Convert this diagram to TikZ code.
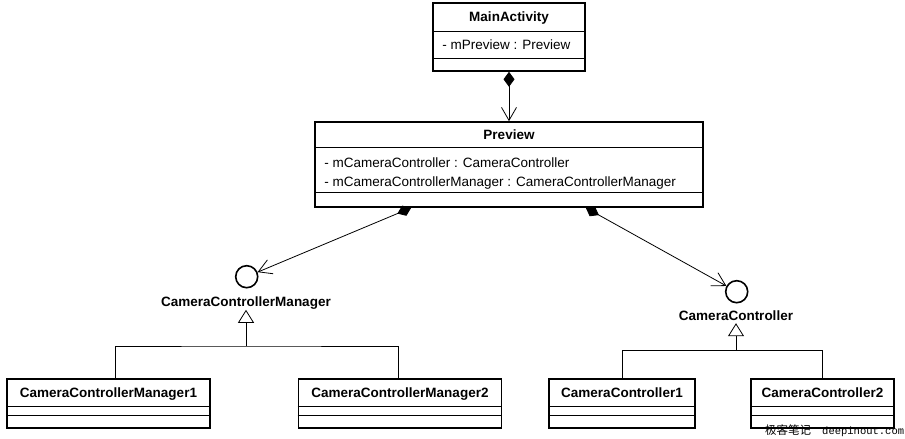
\documentclass[tikz,border=0pt]{standalone}
\usepackage{fontspec}
\setmainfont{Liberation Sans}
\newfontfamily\cjkfont{Noto Sans CJK SC}
\newfontfamily\wmfont{Liberation Mono}
\usetikzlibrary{arrows.meta}

\begin{document}
\begin{tikzpicture}[x=1pt,y=-1pt,
    classbox/.style={draw,line width=1.6pt,rectangle,inner sep=0pt},
    divider/.style={line width=0.8pt},
    classname/.style={font=\fontsize{13.5}{15}\selectfont\bfseries,inner sep=0pt,anchor=base},
    attr/.style={font=\fontsize{13.5}{15}\selectfont,inner sep=0pt,anchor=base west},
    iface/.style={draw,circle,line width=1.6pt,minimum size=22pt,inner sep=0pt},
    ifacename/.style={font=\fontsize{13.5}{15}\selectfont\bfseries,inner sep=0pt,anchor=base,text depth=3pt},
    link/.style={line width=0.8pt},
    compose/.style={link,{Diamond[length=15pt,width=11pt]}-{Straight Barb[length=13pt,width=15pt]}},
    realize/.style={link,-{Triangle[open,length=13pt,width=16pt]}}]
            \useasboundingbox (0,0) rectangle (905,439);
            % classes
            \node[classbox,minimum width=152pt,minimum height=68pt] (main) at (509,37) {};
            \draw[divider] ([yshift=-29pt]main.north west) -- ([yshift=-29pt]main.north east);
            \draw[divider] ([yshift=-56pt]main.north west) -- ([yshift=-56pt]main.north east);
            \node[classname] (maintitle) at ([yshift=-19.5pt]main.north) {MainActivity};
            \node[attr] (mainattr) at ([xshift=10pt,yshift=-47.5pt]main.north west) {- mPreview : Preview};

            \node[classbox,minimum width=388pt,minimum height=85pt] (preview) at (509,164.5) {};
            \draw[divider] ([yshift=-26pt]preview.north west) -- ([yshift=-26pt]preview.north east);
            \draw[divider] ([yshift=-71pt]preview.north west) -- ([yshift=-71pt]preview.north east);
            \node[classname] (previewtitle) at ([yshift=-18pt]preview.north) {Preview};
            \node[attr] (previewattra) at ([xshift=10pt,yshift=-46pt]preview.north west) {- mCameraController : CameraController};
            \node[attr] (previewattrb) at ([xshift=10pt,yshift=-65.4pt]preview.north west) {- mCameraControllerManager : CameraControllerManager};

            \node[classbox,minimum width=203pt,minimum height=49pt] (ccm1) at (108.5,403.5) {};
            \node[classbox,minimum width=203pt,minimum height=49pt] (ccm2) at (400,403.5) {};
            \node[classbox,minimum width=146pt,minimum height=49pt] (cc1) at (622,403.5) {};
            \node[classbox,minimum width=143pt,minimum height=49pt] (cc2) at (822.5,403.5) {};
            \foreach \c in {ccm1,ccm2,cc1,cc2} {
                \draw[divider] ([yshift=-28.5pt]\c.north west) -- ([yshift=-28.5pt]\c.north east);
                \draw[divider] ([yshift=-37.5pt]\c.north west) -- ([yshift=-37.5pt]\c.north east);
            }
            \node[classname] (ccm1title) at ([yshift=-19.5pt]ccm1.north) {CameraControllerManager1};
            \node[classname] (ccm2title) at ([yshift=-19.5pt]ccm2.north) {CameraControllerManager2};
            \node[classname] (cc1title) at ([yshift=-19.5pt]cc1.north) {CameraController1};
            \node[classname] (cc2title) at ([yshift=-19.5pt]cc2.north) {CameraController2};

            % interfaces
            \node[iface] (ccmif) at (246.7,276.7) {};
            \node[ifacename] (ccmlabel) at (246,306.6) {CameraControllerManager};
            \node[iface] (ccif) at (736.7,291.7) {};
            \node[ifacename] (cclabel) at (736,320) {CameraController};

            % composition
            \draw[compose] (main.south) -- (preview.north);
            \draw[compose] ([xshift=97pt]preview.south west) -- (ccmif);
            \draw[compose] ([xshift=-118pt]preview.south east) -- (ccif);

            % realization
            \coordinate (ccmjoin) at (246,346);
            \coordinate (ccjoin) at (736,350.7);
            \draw[realize] (ccmjoin) -- (ccmjoin |- ccmlabel.south);
            \draw[link] ([xshift=7pt]ccm1.north) |- (ccmjoin) -| ([xshift=-2pt]ccm2.north);
            \draw[realize] (ccjoin) -- (ccjoin |- cclabel.south);
            \draw[link] (cc1.north) |- (ccjoin) -| (cc2.north);

            \node[anchor=base west,inner sep=0pt] (mark) at (765,434) {{\cjkfont\fontsize{11.5}{11.5}\selectfont 极客笔记}\hspace{11pt}{\wmfont\fontsize{10.5}{10.5}\selectfont deepinout.com}};
        \end{tikzpicture}
\end{document}
